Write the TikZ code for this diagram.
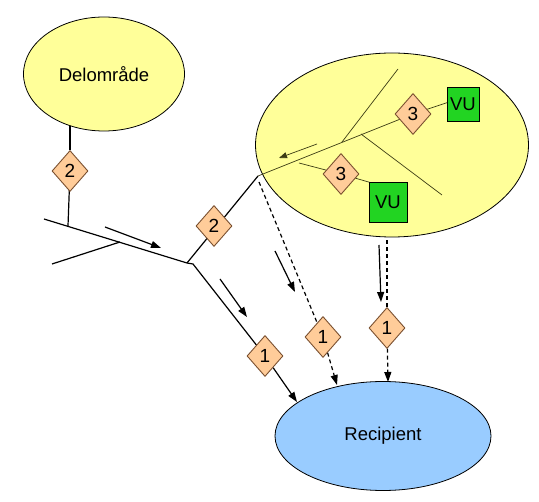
\documentclass[tikz,border=0pt]{standalone}
\usepackage{fontspec}
\setmainfont{Liberation Sans}
\usetikzlibrary{shapes.geometric,arrows.meta,calc}
\pgfdeclarelayer{background}
\pgfdeclarelayer{foreground}
\pgfsetlayers{background,main,foreground}
\definecolor{ylw}{HTML}{FFFF99}
\definecolor{blu}{HTML}{99CCFF}
\definecolor{dfill}{HTML}{FFCC99}
\definecolor{dbrd}{HTML}{7A5030}
\definecolor{vugreen}{HTML}{22D422}
\definecolor{inl}{HTML}{3C3C14}
\begin{document}
\begin{tikzpicture}[x=1pt,y=-1pt,
  every node/.style={font=\fontsize{18.5}{20}\selectfont},
  area/.style={ellipse,draw=black,line width=0.8pt,inner sep=0pt},
  dia/.style={diamond,draw=dbrd,fill=dfill,line width=0.9pt,inner sep=0pt,minimum width=36pt,minimum height=41pt,font=\fontsize{19}{20}\selectfont},
  vubox/.style={rectangle,draw=black,fill=vugreen,line width=0.6pt,inner sep=0pt},
  conn/.style={line width=1.2pt,draw=black},
  dconn/.style={conn,dash pattern=on 4pt off 3pt},
  inline/.style={line width=0.7pt,draw=inl},
  arr/.style={-{Triangle[length=10pt,width=7pt]}},
  sarr/.style={-{Triangle[length=8pt,width=6pt]}},
]
\useasboundingbox (0,0) rectangle (539,502);

% coordinates
\coordinate (L1) at (44,219);
\coordinate (J) at (187,263);
\coordinate (B) at (193,264);
\coordinate (L2s) at (52,264);
\coordinate (L2e) at (120,242);
\coordinate (j2) at (68,226);
\coordinate (P) at (258,176);
\coordinate (Q) at (259,182);
\coordinate (r1) at (297,402);
\coordinate (r2) at (337,385);
\coordinate (r3) at (388,382);
\coordinate (fa1s) at (105,227);
\coordinate (fa1e) at (161,248);
\coordinate (fa2s) at (220,279);
\coordinate (fa2e) at (247,317);
\coordinate (fa3s) at (275,251);
\coordinate (fa3e) at (295,292);
\coordinate (fa4s) at (379,245);
\coordinate (fa4e) at (381,302);
\coordinate (s1) at (342,142);
\coordinate (s1e) at (398,69);
\coordinate (s2) at (361,134);
\coordinate (s2e) at (442,195);
\coordinate (l3s) at (299,163);
\coordinate (l3e) at (372,183);
\coordinate (v1e) at (452,101);
\coordinate (ias) at (317,144);
\coordinate (iae) at (279,158);

% areas
\node[area,fill=ylw,minimum width=161pt,minimum height=114pt] (del) at (104,74) {Delomr\r{a}de};
\node[area,fill=blu,minimum width=216pt,minimum height=109pt] (rec) at (383,436) {Recipient};
\node[area,fill=ylw,minimum width=273pt,minimum height=184pt] (big) at (392,145) {};

% markers
\begin{pgfonlayer}{foreground}
\node[dia] (d2a) at (70,171) {2};
\node[dia] (d2b) at (214,226) {2};
\node[dia] (d1a) at (265,356) {1};
\node[dia] (d1b) at (323,337) {1};
\node[dia] (d1c) at (387,328) {1};
\node[dia] (d3a) at (413,114) {3};
\node[dia] (d3b) at (341,174) {3};
\node[vubox,minimum width=32pt,minimum height=34pt] (vu1) at (463,104) {VU};
\node[vubox,minimum width=38pt,minimum height=40pt] (vu2) at (388,202) {VU};
\end{pgfonlayer}

% outside connectors
\begin{pgfonlayer}{background}
\draw[conn] (d2a) -- (d2a |- del);
\draw[conn] (d2a.center) -- (j2);
\draw[conn] (L1) -- (J) -- (B) -- (d1a.center);
\draw[conn] (L2s) -- (L2e);
\draw[conn] (J) -- (P);
\draw[dconn] (Q) -- (d1b.center);
\draw[dconn] (d1c.center) -- (d1c |- big);
\end{pgfonlayer}

% inner lines of the big area
\draw[inline] (P) -- (d3a.center) -- (v1e);
\draw[inline] (s1) -- (s1e);
\draw[inline] (s2) -- (s2e);
\draw[inline] (l3s) -- (d3b.center) -- (l3e);
\draw[inline,sarr] (ias) -- (iae);

% arrows into the recipient
\draw[conn,arr] (d1a) -- (r1);
\draw[dconn,arr] (d1b) -- (r2);
\draw[dconn,arr] (d1c) -- (r3);

% flow arrows
\draw[conn,arr] (fa1s) -- (fa1e);
\draw[conn,arr] (fa2s) -- (fa2e);
\draw[conn,arr] (fa3s) -- (fa3e);
\draw[conn,arr] (fa4s) -- (fa4e);
\end{tikzpicture}
\end{document}
